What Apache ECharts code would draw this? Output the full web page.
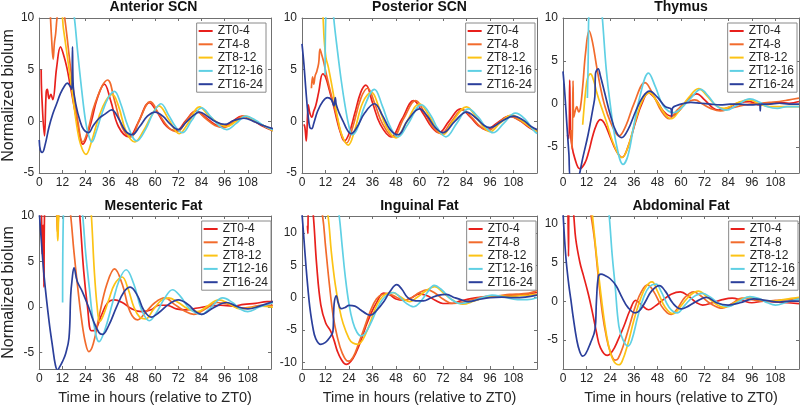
<!DOCTYPE html>
<html>
<head>
<meta charset="utf-8">
<title>Normalized biolum by ZT group</title>
<script src="https://cdn.jsdelivr.net/npm/echarts@6/dist/echarts.min.js"></script>
<style>
  html, body { margin: 0; padding: 0; background: #fff; }
  #main { width: 800px; height: 408px; }
</style>
</head>
<body>
<div id="main"></div>
<script>
// groups and their colours
const groups = ['ZT0-4', 'ZT4-8', 'ZT8-12', 'ZT12-16', 'ZT16-24'];
const groupColors = ['#e8201c', '#f26b2c', '#fcc315', '#5fd0e4', '#2b3f9b'];

const panelTitles = ['Anterior SCN', 'Posterior SCN', 'Thymus', 'Mesenteric Fat', 'Inguinal Fat', 'Abdominal Fat'];
const xTickValues = [0, 12, 24, 36, 48, 60, 72, 84, 96, 108];
const timeMax = 120;
const yLimits = [[-5, 10], [-5, 10], [-8, 10], [-6.8, 10], [-11, 12.6], [-8.75, 11]];
const yTickValues = [[-5, 0, 5, 10], [-5, 0, 5, 10], [-5, 0, 5, 10], [-5, 0, 5, 10], [-10, -5, 0, 5, 10], [-5, 0, 5, 10]];

// [hour, normalized biolum]
const ant0 = [[1,5],[1.3,2.6],[2.7,-1.4],[3.6,2.8],[4.2,3.1],[5,2.2],[6,2.6],[7,2.1],[9,5.2],[11,7.2],[12.5,6.5],[14.3,5.2],[16,3.5],[17.7,1.8],[19.5,0],[21.2,-1.6],[22.5,-2.2],[24,-1.8],[27,0],[30,2.2],[33.7,3.6],[37,2],[41,-0.5],[46.5,-1.5],[51,-0.2],[57,1.8],[61,0.9],[66,-0.5],[71,-0.9],[76,0.1],[81,1.0],[86,0.4],[91,-0.3],[95,-0.5],[100,0],[105,0.5],[110,0.2],[115,-0.4],[121,-0.9]];
const ant4 = [[5.7,10.5],[6.4,8],[7.2,6],[7.8,7.5],[8.5,8.5],[9.2,10],[10,11],[12,11.5],[13.2,10],[14.5,8],[16,5.5],[18,2.5],[20,0],[22.5,-2],[25,-1],[29,1.8],[35.4,4.0],[39,2],[43,-0.6],[47.5,-1.5],[52,0.2],[57.5,1.9],[62,0.7],[67,-0.6],[71.5,-1.0],[76,0],[81,1.0],[86,0.3],[91,-0.4],[95.5,-0.6],[101,0],[106,0.5],[111,0],[116,-0.4],[121,-0.8]];
const ant8 = [[9.5,10.5],[10.5,10.2],[11.5,10.4],[12.5,9],[14,7],[15.5,5],[17.5,2.2],[19.5,-0.5],[21.5,-2.3],[24.2,-3.2],[27,-2],[31,0.5],[34.5,2],[37.8,2.6],[41,1.5],[45,-1],[49.5,-2],[54,-0.9],[58,0.5],[62,1.5],[67,0.2],[72.5,-1.2],[77,-0.2],[83,1.4],[88,0.5],[93,-0.2],[97,-0.5],[102,0],[107,0.5],[112,0],[117,-0.5],[121,-0.9]];
const ant12 = [[17.5,11],[18.5,9.5],[20,6.5],[22,3],[24,0],[25.5,-1.3],[27.2,-2],[29.5,-1],[32,0.5],[35.5,2.2],[38.9,2.9],[42,1.8],[46,-0.5],[50.5,-1.9],[55,-0.8],[59,0.8],[63,1.7],[67,0.6],[70.5,-0.5],[74,-1.1],[79,0.1],[84,1.3],[89,0.4],[93,-0.4],[97,-0.8],[102,-0.2],[107,0.5],[112,0.1],[117,-0.5],[121,-0.8]];
const ant16 = [[0,-1.8],[0.6,-2.8],[1.6,-3.0],[3,-2.3],[5,-0.6],[7,0.7],[9,1.7],[11,2.7],[13,3.4],[14.5,3.7],[16,3.4],[16.9,3.1],[17.2,7.2],[17.6,3.4],[19,1.6],[21,0.1],[23,-0.8],[25.5,-1.1],[28,-0.4],[31,0.3],[34,0.7],[37.5,1.1],[41,0.3],[44.5,-0.9],[48,-1.3],[52,-0.5],[56,0.5],[60,0.9],[64,0.5],[68,-0.3],[72,-0.8],[76,-0.1],[80,0.6],[83,0.9],[87,0.5],[91,0],[96,-0.3],[101,0.1],[106,0.3],[111,0],[116,-0.4],[121,-0.7]];

const post0 = [[1,-0.3],[1.5,-0.6],[2.2,-1.9],[3.2,1.6],[4,0.8],[5,0.4],[6,1.0],[7,1.5],[8.5,2.8],[10.6,4.6],[12,4.3],[14,3],[16,1.6],[18,0],[19.5,-1],[21.6,-1.9],[24,-1.2],[27,0.8],[30,2.8],[32.6,3.5],[36,1.8],[40,-0.3],[45.5,-1.5],[51,0.2],[57,2],[62,0.7],[66,-0.5],[70,-1.1],[75,0],[81,1.2],[86,0.4],[90,-0.4],[94,-0.8],[100,-0.1],[106,0.5],[111,0.1],[116,-0.6],[120,-1]];
const post4 = [[4.8,3.2],[5.4,4.3],[6,3.6],[6.7,4.4],[7.5,4.8],[8.5,5.6],[9.2,7.0],[10,6.5],[11,5.8],[12.5,4.5],[15,2.5],[18,0.3],[20,-1.2],[22.7,-2.1],[26,-0.5],[30,2.2],[33.5,3.2],[37,1.8],[41,-0.2],[46.5,-1.5],[52,0.3],[58,2.0],[63,0.7],[67,-0.6],[71,-1.2],[76,-0.1],[82,1.1],[87,0.3],[91,-0.5],[95,-0.9],[100,-0.2],[106,0.5],[111,0.1],[116,-0.5],[120,-0.9]];
const post8 = [[10,11],[10.6,10.5],[11.3,8],[12.2,6.2],[13.5,5.2],[15.5,3.2],[18,0.5],[20.5,-1.4],[23.6,-2.3],[27,-0.8],[31,1.8],[35.5,2.8],[39,1.5],[43,-0.5],[48,-1.6],[53,-0.2],[60,1.7],[65,0.5],[68,-0.5],[72,-1.3],[77,0],[84,1.4],[89,0.4],[93,-0.6],[96,-1.0],[101,-0.2],[107,0.6],[112,0.1],[116,-0.5],[120,-1]];
const post12 = [[11.8,4.5],[12.3,11],[15.5,12],[16.2,10],[18,7],[20,4],[22,1.5],[24,-0.5],[25.5,-1.3],[28,-0.8],[32,1.5],[37,3.1],[41,1.5],[45,-0.5],[49,-1.5],[54,-0.3],[61,1.6],[66,0.5],[69,-0.6],[73.5,-1.5],[79,-0.2],[85,1.2],[90,0.4],[94,-0.6],[97.5,-1.1],[103,-0.2],[109,0.8],[114,0.2],[118,-0.8],[120,-1.2]];
const post16 = [[0,7.5],[1,5.5],[2,3],[3,0.8],[4,-0.6],[5,-0.7],[6,-0.2],[8,1],[10.5,1.9],[13,2.3],[15,2.1],[16.3,1.5],[17,2.3],[17.5,1.6],[19,0.8],[21,0],[23,-0.8],[25,-1.2],[28,-0.6],[32,0.8],[37,1.7],[41,0.6],[45,-0.8],[49,-1.3],[54,0.1],[60,1.2],[64,0.5],[68,-0.6],[72,-1.1],[78,0],[84,0.9],[89,0.3],[93,-0.4],[96,-0.6],[102,0],[108,0.5],[113,0.1],[117,-0.5],[120,-0.8]];

const thy0 = [[2.2,-3.6],[3,-4],[3.4,2.8],[3.8,-3],[4.5,-4.8],[6,-6.3],[8.5,-7.5],[11,-6.9],[13,-5.6],[15,-3.8],[17,-2.4],[19,-1.8],[21,-2.2],[24,-3.8],[27,-5.4],[30,-6.2],[33,-5],[37,-2],[40,0],[43.5,1.3],[47,0.6],[51,-0.8],[55,-1.4],[59,-0.8],[63,0.4],[68,1.2],[72,0.5],[76,-0.4],[79,-0.7],[84,-0.4],[90,0.2],[95,0.3],[100,-0.1],[105,0],[110,0.2],[115,0.1],[120,0.3]];
const thy4 = [[4,-3],[4.6,-5.2],[5.1,2.7],[5.5,-1.5],[6.2,-0.8],[7,-0.3],[8,-0.9],[8.8,-0.5],[10,2],[11.5,6],[13.3,8.5],[15,7.2],[17,4.5],[19,2],[21,0],[24,-2],[28.5,-3.7],[32,-2.5],[36,0],[41.7,2.5],[46,1],[50,-0.8],[54,-1.7],[58,-0.7],[62,0.1],[67,0.5],[71,0],[75,-0.5],[80,-0.8],[85,-0.5],[90,-0.2],[95,0],[100,0.1],[105,0.2],[110,0.3],[115,0.5],[120,0.7]];
const thy8 = [[10,-2.4],[10.5,-1],[11.5,1.5],[12.5,3],[14,3.5],[15.5,2.8],[17,1.5],[19,0],[22,-2],[25,-4.2],[28,-5.8],[30,-6.2],[33,-5],[37,-1.8],[40.5,0.5],[44,1.3],[48,0.2],[52,-1.2],[55,-1.7],[59,-0.8],[64,0.8],[69,1.8],[73,1],[78,-0.2],[82,-0.5],[88,0.1],[95,0.5],[100,0],[105,-0.3],[110,-0.3],[115,-0.3],[120,-0.3]];
const thy12 = [[12.4,0.7],[12.8,5],[13.2,11],[19,12],[20,10],[22,4],[24,0],[27,-4.5],[30.6,-7],[33,-6],[36,-2.5],[39,0.8],[43.5,3.6],[47,2],[51,-0.2],[56,-1],[60,-0.5],[65,0.7],[70,1.7],[74,0.9],[78,-0.2],[83,-0.7],[88,-0.2],[95,0.6],[100,0.2],[104,-0.3],[109,-0.5],[114,-0.3],[120,-0.3]];
const thy16 = [[0,3.8],[1,1],[2,-2.5],[3,-5.8],[3.8,-8.5],[7.8,-8.5],[8.5,-8],[10,-6.3],[12.8,-3.5],[15.3,-0.4],[16.2,0.9],[16.5,3.5],[17.9,4.1],[19,3.3],[21,1.5],[24,-1.2],[27,-3.2],[29.8,-3.9],[33,-3],[37,-0.8],[40.5,0.8],[44,1.5],[48,0.8],[52,-0.3],[55,-0.6],[55.3,-1.4],[55.6,-0.5],[60,0],[65,0.2],[70,0.1],[75,0],[80,-0.1],[85,0],[90,0],[95,-0.1],[100,0],[100.3,-0.8],[100.6,0],[105,0],[110,0.1],[115,0],[120,0]];

const mes0 = [[0,12],[1,11],[1.5,5.8],[2,9],[2.4,2.2],[2.8,11],[4,12],[20,12],[21,10],[23,4],[25,0],[27,-2.6],[29,-2.5],[32,-1],[35.5,0.5],[39,0.8],[43,0.5],[48,-0.2],[53,-0.5],[58,-0.3],[62,0.2],[66,0.2],[71,-0.2],[76,-0.3],[82,-0.1],[88,0.1],[94,0.2],[100,0.1],[106,0.3],[112,0.4],[118,0.6],[121,0.6]];
const mes4 = [[0,12],[8.5,11],[9.5,8.2],[10.5,11],[15,12],[16.3,10],[18,6],[20,2],[22,-1.5],[24,-4],[25.7,-4.9],[28,-4],[31,-1],[35,2.5],[39,4.2],[43,2.5],[47,-0.5],[51,-1.4],[55,-0.6],[60,0.5],[65,1.0],[70,0.3],[75,-0.4],[80,-0.8],[86,-0.2],[92,0.5],[98,0.3],[104,-0.1],[110,0],[115,0.2],[121,0.2]];
const mes8 = [[0,12],[8.8,11],[9.6,7.3],[10.5,11],[15,12],[26,12],[27,10],[28.5,4],[30,0],[31.3,-1.6],[33,-1],[36,0.8],[39,2.5],[42.9,3.3],[46,2],[49,0],[52,-1.1],[55,-1.3],[59,-0.3],[63,0.7],[67,1.0],[72,0.5],[77,-0.2],[82,-0.5],[87,0.1],[93,0.8],[98,0.4],[104,-0.2],[109,-0.1],[115,0.1],[121,0]];
const mes12 = [[12.1,0.5],[12.6,11],[21,12],[22.5,10],[24,6],[26,2],[28,-1.5],[31,-3.8],[34,-2.5],[38,0.5],[41.5,3],[45,4.1],[49,2.5],[53,-0.3],[57,-1.5],[61,-0.5],[65,1],[69,1.9],[73,1.2],[78,-0.2],[84,-0.8],[89,0],[95,1.0],[100,0.5],[104,-0.2],[108,-0.5],[114,0],[121,0.5]];
const mes16 = [[0,10.5],[1,7.5],[2.6,3.2],[5.1,-1.6],[7,-4.5],[8.3,-6.3],[9.4,-6.9],[10.5,-6.6],[12,-6],[13.7,-5.1],[15.4,-3.4],[16.3,1.3],[17,3],[18,4.3],[19.7,2.8],[22.3,1.7],[25.7,-0.1],[28,-1.5],[30.9,-2.8],[32.6,-3.0],[36,-2],[40,0],[44,1.7],[47.1,2.2],[51,1.2],[54,-0.3],[58,-1.1],[62,-0.6],[67,0.3],[72,0.8],[77,0.3],[81,-0.5],[84,-0.8],[90,-0.1],[97,0.5],[102,0.1],[108,-0.2],[114,0.1],[121,0.6]];

const ing0 = [[2.8,11.1],[3.0,9.9],[3.3,14],[5,14],[5.8,12.6],[7.5,5],[9.6,-1.1],[12.1,-3.9],[14.7,-5.2],[16.5,-6.7],[18,-8.2],[20,-9.5],[22.6,-10.3],[25,-9.8],[27.5,-8.5],[30,-6.7],[32.5,-4.5],[35,-2.6],[38,-0.8],[41.7,0.7],[45,0.4],[48,-0.2],[52,-0.4],[56,0],[60,0.6],[64,0.3],[68,-0.4],[72,-0.9],[76,-0.9],[81,-0.5],[87,-0.1],[93,0.1],[99,0.2],[105,0.3],[111,0.4],[116,0.6],[120,0.8]];
const ing4 = [[9,14],[10.5,12.6],[12,8],[14,2],[16,-3],[18,-6],[20.5,-8.5],[23.6,-9.8],[26,-9.2],[29,-7],[32,-4.5],[35,-2],[38,-0.2],[41,0.5],[44,0.6],[48,0.1],[52,-0.4],[56,0],[60,0.8],[64,1.2],[68,0.7],[72,-0.2],[77,-0.9],[82,-0.7],[88,-0.2],[94,0.2],[100,0.3],[106,0.5],[112,0.6],[116,0.7],[120,1.1]];
const ing8 = [[12,14],[13.3,12.6],[15,7],[17,2],[19,-1.5],[21,-4],[24,-6.3],[26,-7],[28.5,-7.2],[31,-6.5],[34,-4.5],[37,-2],[40,-0.2],[43,0.6],[46,0.8],[50,0.2],[55,-0.6],[59,0.1],[63,1],[67.8,1.7],[72,0.8],[77,-0.4],[82,-1.0],[88,-0.5],[94,0.1],[99,0.3],[105,0.2],[111,0.3],[116,0.4],[120,0.5]];
const ing12 = [[18,14],[19,12.6],[20.5,8],[22,3.5],[24,-1],[26,-3.8],[28,-5.3],[30,-5.9],[32,-5.6],[35,-4],[38,-2],[41,-0.3],[44,0.5],[46.7,0.8],[50,0.1],[53,-0.8],[57,-1.4],[60,-0.8],[64,0.8],[67.5,1.9],[71,1.3],[76,-0.2],[81,-0.9],[86,-0.6],[92,0],[97,0.4],[103,0.1],[110,-0.3],[115,-0.3],[120,0]];
const ing16 = [[0,13],[1,9],[2,5],[3,1.5],[4,-1.5],[5.5,-4.5],[7,-6.3],[9.6,-7.2],[12,-6.9],[14,-6.2],[15.8,-5.2],[16.2,-2],[16.6,-0.5],[17.5,0.3],[18.5,-0.8],[20,-1.7],[22,-1.5],[24,-1.2],[27,-1.3],[30,-1.9],[33,-2.5],[35,-2.7],[38,-2],[42,-0.5],[45,1],[48.4,2],[51,1.3],[54,0],[58,-0.5],[62,-0.5],[66,0],[70,0.4],[73.7,0.5],[78,0],[82,-0.4],[85,-0.6],[90,-0.3],[96,0],[102,0.1],[108,0],[114,0.1],[120,0.4]];

const abd0 = [[2.5,13],[2.8,5.8],[3.1,13],[4.8,13],[5.5,11],[6.5,8],[8.6,5],[10.3,3.4],[12.9,0.9],[15,-1.5],[17,-4],[19,-6],[22.4,-7],[25,-6.5],[28,-5],[31,-3.2],[34,-1.2],[37,0.1],[40,-0.5],[43.5,-1.1],[47,-0.6],[51,0.2],[55,0.9],[59.7,1.2],[64,0.6],[68,-0.2],[71,-0.5],[76,-0.2],[81,0.2],[86,0.4],[91,0.1],[96,-0.2],[102,0],[108,-0.1],[114,-0.2],[120,-0.3]];
const abd4 = [[13,13],[14.3,11],[16,8],[18,3],[20,-1.5],[22,-4.5],[24,-6.5],[26.5,-7.6],[28,-7.4],[31,-5.5],[34,-3],[37,-0.5],[40,1.3],[43,2.1],[46,1.3],[50,-0.6],[53,-1.5],[55,-1.7],[58,-1],[62,0.5],[66.5,1.2],[70,0.7],[75,-0.3],[81,-0.9],[86,-0.3],[91,0.4],[96,0.2],[102,0],[108,0.1],[114,0.2],[120,0.4]];
const abd8 = [[14,13],[15,11],[17,6],[19,1.5],[21,-2.5],[23,-5.5],[25.5,-7.6],[28.4,-8.2],[30,-7.8],[33,-5.5],[36,-2.5],[39,0],[42,1.8],[45.3,2.5],[48,1.3],[52,-0.8],[56,-1.6],[60,-0.6],[64,0.6],[68.8,1.3],[73,0.6],[78,-0.4],[82,-0.8],[88,-0.1],[94,0.5],[100,0.2],[106,0],[112,0.2],[117,0.4],[120,0.5]];
const abd12 = [[22.5,13],[23.5,11],[25,6],[26.5,2],[28.4,-3.2],[30.5,-5],[33,-5.8],[35,-5],[38,-2],[41,0.5],[44,1.9],[47.3,2.2],[50,1.2],[54,-0.8],[58,-1.5],[62,-0.5],[66,0.5],[71,1.0],[75,0.5],[80,-0.4],[84,-0.7],[89,-0.1],[95,0.6],[100,0.3],[104,-0.2],[108,-0.5],[114,-0.1],[120,0.3]];
const abd16 = [[0,11.5],[0.8,8],[1.7,5],[3,2],[4,0.2],[5.2,-2.1],[7,-5],[8.5,-6.5],[10,-7.1],[11.5,-6.8],[13.8,-5.5],[16.3,-3.6],[17,0],[18,3.2],[19.3,3.5],[21.5,3.3],[24,2.9],[27,2],[30,0.5],[33,-0.8],[36.6,-1.5],[39,-1.2],[42,0],[45,1.3],[49,2],[52,1.3],[56,-0.3],[60,-1],[64,-0.6],[68,0],[73,0.5],[78,-0.2],[84,-0.5],[90,-0.2],[97,0.3],[103,0.1],[110,-0.1],[115,0],[120,0]];

const panelData = [
  [ant0, ant4, ant8, ant12, ant16],
  [post0, post4, post8, post12, post16],
  [thy0, thy4, thy8, thy12, thy16],
  [mes0, mes4, mes8, mes12, mes16],
  [ing0, ing4, ing8, ing12, ing16],
  [abd0, abd4, abd8, abd12, abd16]
];

const chart = echarts.init(document.getElementById('main'));

// panel layout (px)
const colLeft = [36, 302, 563];
const colWidth = [235, 235, 236];
const rowTop = [18, 216];
const rowHeight = [155, 153];
const legendRight = [534, 265, 3, 529, 264, 2];

const axisColor = '#707070';
const textColor = '#262626';
const fontFamily = '"Liberation Sans", Arial, Helvetica, sans-serif';

const grid = [], title = [], legend = [], series = [];
const xBottom = [], xTop = [], yLeft = [], yRight = [];

function boxLine() {
  return { show: true, onZero: false, lineStyle: { color: axisColor, width: 1 } };
}

panelTitles.forEach(function (name, i) {
  const col = i % 3, row = Math.floor(i / 3);
  const left = colLeft[col], top = rowTop[row];
  const width = colWidth[col], height = rowHeight[row];

  grid.push({ left: left, top: top, width: width, height: height });

  title.push({
    text: name,
    left: left + width / 2,
    top: row ? 199 : 0,
    textAlign: 'center',
    padding: 0,
    textStyle: { fontSize: 14, fontWeight: 'bold', color: '#111', fontFamily: fontFamily }
  });

  xBottom.push({
    type: 'value', gridIndex: i, position: 'bottom', min: 0, max: timeMax,
    name: row ? 'Time in hours (relative to ZT0)' : '',
    nameLocation: 'middle', nameGap: 21,
    nameTextStyle: { fontSize: 14.5, color: textColor, fontFamily: fontFamily },
    axisLine: boxLine(),
    axisTick: { show: true, inside: true, length: 3, customValues: xTickValues, lineStyle: { color: axisColor } },
    axisLabel: { customValues: xTickValues, margin: 4, fontSize: 12, color: textColor, fontFamily: fontFamily },
    splitLine: { show: false }
  });
  xTop.push({
    type: 'value', gridIndex: i, position: 'top', min: 0, max: timeMax,
    axisLine: boxLine(),
    axisTick: { show: true, inside: true, length: 3, customValues: xTickValues, lineStyle: { color: axisColor } },
    axisLabel: { show: false },
    splitLine: { show: false }
  });
  yLeft.push({
    type: 'value', gridIndex: i, position: 'left', min: yLimits[i][0], max: yLimits[i][1],
    name: col === 0 ? 'Normalized biolum' : '',
    nameLocation: 'middle', nameGap: 15,
    nameTextStyle: { fontSize: 16, color: textColor, fontFamily: fontFamily },
    axisLine: boxLine(),
    axisTick: { show: true, inside: true, length: 3, customValues: yTickValues[i], lineStyle: { color: axisColor } },
    axisLabel: { customValues: yTickValues[i], margin: 5, fontSize: 12, color: textColor, fontFamily: fontFamily },
    splitLine: { show: false }
  });
  yRight.push({
    type: 'value', gridIndex: i, position: 'right', min: yLimits[i][0], max: yLimits[i][1],
    axisLine: boxLine(),
    axisTick: { show: true, inside: true, length: 3, customValues: yTickValues[i], lineStyle: { color: axisColor } },
    axisLabel: { show: false },
    splitLine: { show: false }
  });

  legend.push({
    data: groups,
    orient: 'vertical',
    right: legendRight[i],
    top: top + 5,
    icon: 'rect',
    itemWidth: 14,
    itemHeight: 2,
    itemGap: 1.3,
    padding: [2, 3, 2, 2],
    borderColor: '#8a8a8a',
    borderWidth: 1,
    backgroundColor: '#fff',
    selectedMode: false,
    z: 10,
    textStyle: { fontSize: 12, lineHeight: 12, color: textColor, fontFamily: fontFamily }
  });

  panelData[i].forEach(function (points, g) {
    series.push({
      name: groups[g],
      type: 'line',
      xAxisIndex: i,
      yAxisIndex: i,
      data: points,
      symbol: 'none',
      showSymbol: false,
      smooth: 0.4,
      clip: true,
      lineStyle: { width: 1.7, color: groupColors[g] },
      itemStyle: { color: groupColors[g] },
      emphasis: { disabled: true }
    });
  });
});

chart.setOption({
  animation: false,
  backgroundColor: '#fff',
  title: title,
  legend: legend,
  grid: grid,
  xAxis: xBottom.concat(xTop),
  yAxis: yLeft.concat(yRight),
  tooltip: { show: false },
  series: series
});

window.addEventListener('resize', function () { chart.resize(); });
</script>
</body>
</html>
